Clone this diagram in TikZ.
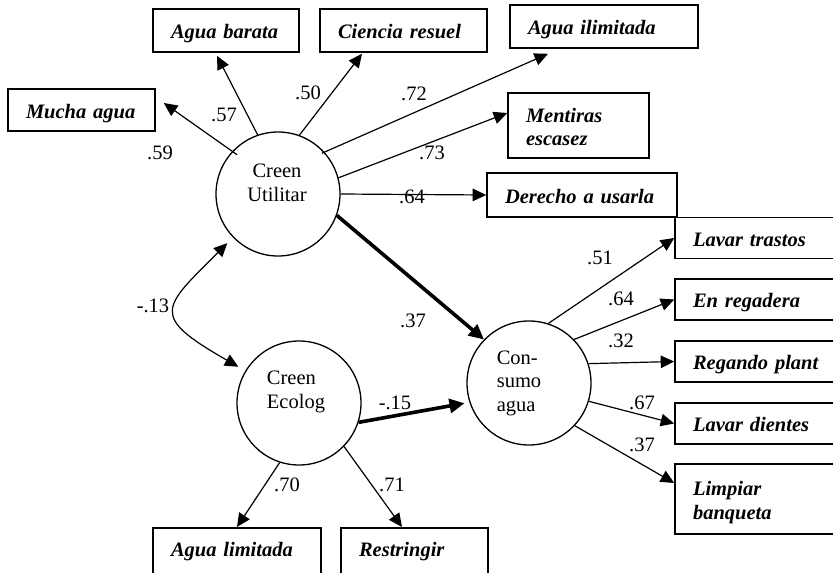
\documentclass[tikz,border=0pt]{standalone}
\usepackage{fontspec}
\setmainfont{Liberation Serif}
\usetikzlibrary{arrows.meta}
\begin{document}
\begin{tikzpicture}[x=1pt, y=-1pt,
  font=\fontsize{20.5}{23.5}\selectfont,
  lat/.style={circle, draw, line width=1.3pt, minimum size=124pt, inner sep=0pt},
  obs/.style={draw, line width=1.6pt, font=\fontsize{20.5}{23.5}\selectfont\bfseries\itshape,
    align=left, inner xsep=18pt, inner ysep=0pt, minimum height=43pt, text height=22pt, text depth=6pt},
  arr/.style={-{Triangle[length=13.5pt,width=12.5pt]}, line width=1.2pt},
  big/.style={-{Triangle[length=15pt,width=14pt]}, line width=3.6pt}]
\useasboundingbox (0,0) rectangle (833,573);
\clip (0,0) rectangle (833,573);

\node[lat, label={[align=center, xshift=-1pt, yshift=11pt]center:Creen\\Utilitar}] (cu) at (278,194) {};
\node[lat, label={[align=left, xshift=-3pt, yshift=11pt]center:Creen\\Ecolog}] (ce) at (299,403) {};
\node[lat, label={[align=left, xshift=-10pt]center:Con-\\sumo\\agua}] (ca) at (529,383) {};

\node[obs, text width=111pt, minimum height=42pt] (mucha) at (81.5,110) {Mucha agua};
\node[obs, text width=110pt] (barata) at (226,30.5) {Agua barata};
\node[obs, text width=131pt] (ciencia) at (403.5,30.5) {Ciencia resuel};
\node[obs, text width=152pt] (ilim) at (604,26.5) {Agua ilimitada};
\node[obs, text width=105pt, minimum height=65pt, text depth=29pt] (ment) at (578.5,125.5) {Mentiras\\escasez};
\node[obs, text width=154pt, minimum height=44pt] (derecho) at (582,195) {Derecho a usarla};
\foreach \nm/\y/\t in {lavar/238/Lavar trastos, regad/299.5/En regadera, regando/361.5/Regando plant, dientes/423.5/Lavar dientes}
{
	\node[obs, text width=144pt, minimum height=41pt] (\nm) at (765,\y) {\t};
}
\node[obs, text width=144pt, minimum height=70pt, text depth=29pt] (limpiar) at (765,499) {Limpiar\\banqueta};
\node[obs, anchor=north, text width=132pt, text height=29pt, text depth=40pt] (alimit) at (237,527) {Agua limitada};
\node[obs, anchor=north, text width=111pt, text height=29pt, text depth=40pt] (restr) at (414.5,527) {Restringir};

\draw[arr, shorten <=-6pt] (cu.137) -- ([xshift=8pt, yshift=7pt]mucha.east);
\draw[arr] (cu.109) -- ([xshift=-9pt, yshift=-3pt]barata.south);
\draw[arr] (cu.70) -- ([xshift=-41.5pt, yshift=-1pt]ciencia.south);
\draw[arr, shorten <=-3pt] (cu.42) -- ([xshift=-56pt, yshift=-5pt]ilim.south);
\draw[arr] (cu.15) -- ([yshift=12.5pt]ment.west);
\draw[arr] (cu.east) -- (derecho.west);
\draw[big] (cu.-20) -- (ca.136);
\draw[big, shorten >=5pt] (ce.-18) -- (ca.198);
\draw[arr] (ce.252) -- (alimit.north);
\draw[arr] (ce.-44) -- ([xshift=-12.5pt]restr.north);
\foreach \a/\nm in {72/lavar, 44/regad, 18/regando, -17/dientes}
{
	\draw[arr] (ca.\a) -- (\nm.west);
}
\draw[arr] (ca.-43) -- ([yshift=16pt]limpiar.west);
\draw[arr, {Triangle[length=13.5pt,width=12.5pt]}-{Triangle[length=13.5pt,width=12.5pt]}, shorten <=8pt, shorten >=8pt]
	(cu.224) .. controls +(-71,71) and +(-96,-55) .. (ce.149);

\foreach \x/\y/\t [count=\i] in {160/153/.59, 224/115/.57, 308/93/.50, 414/94/.72, 432/153/.73, 412/197/.64, 413/321/.37, 153/306/-.13, 395/403/-.15, 287/485/.70, 392/485/.71, 600/258/.51, 621/299/.64, 621/341/.32, 642/403/.67, 642/445/.37}
{
	\node[inner sep=0pt] (w\i) at (\x,\y) {\t};
}
\end{tikzpicture}
\end{document}
